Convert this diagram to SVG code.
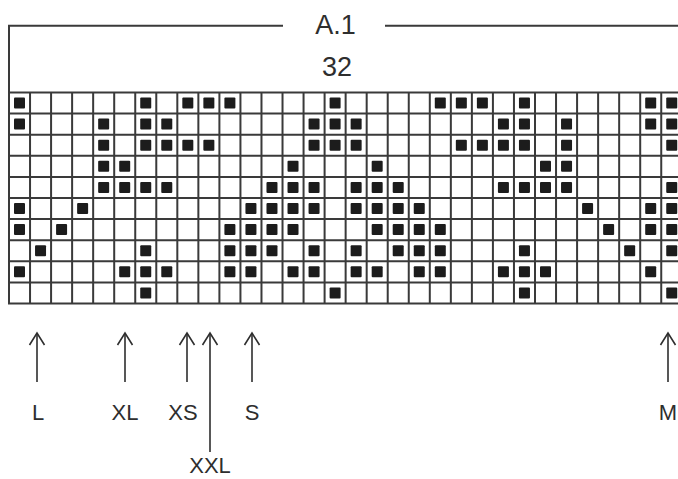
<svg xmlns="http://www.w3.org/2000/svg" xmlns:xlink="http://www.w3.org/1999/xlink" width="678" height="479" viewBox="0 0 678 479">
<style>
.txt{font-family:"Liberation Sans",Arial,sans-serif;fill:#2e2e2e;text-anchor:middle}
.hdr{font-size:27px}
.lbl{font-size:22px}
.brk{stroke:#3a3a3a;stroke-width:2;fill:none}
.grid{stroke:#3a3a3a;stroke-width:2;fill:none}
.arr{stroke:#2e2e2e;stroke-width:1.6;fill:none;marker-start:url(#head)}
.sq{fill:#1c1c1c}
</style>
<defs>
<rect id="sq" class="sq" x="5" y="5" width="11" height="11" rx="1"/>
<marker id="head" markerUnits="userSpaceOnUse" markerWidth="20" markerHeight="20" refX="0" refY="0" orient="0" overflow="visible">
<path d="M-7.5,12 L0,0 L7.5,12" stroke="#2e2e2e" stroke-width="1.6" fill="none"/>
</marker>
</defs>
<rect width="678" height="479" fill="#ffffff"/>
<g id="header">
<path class="brk" d="M9,92 V25.7 H283 M385,25.7 H678"/>
<text class="txt hdr" x="335.5" y="33.5">A.1</text>
<text class="txt hdr" x="337" y="75.5">32</text>
</g>
<g id="chart">
<rect x="9" y="92.5" width="680" height="211" fill="#ffffff"/>
<g id="squares">
<g transform="translate(0,92.5)">
<use href="#sq" x="9"/><use href="#sq" x="135.24"/><use href="#sq" x="177.32"/><use href="#sq" x="198.36"/><use href="#sq" x="219.4"/><use href="#sq" x="324.6"/><use href="#sq" x="429.8"/><use href="#sq" x="450.84"/><use href="#sq" x="471.88"/><use href="#sq" x="513.96"/><use href="#sq" x="640.2"/><use href="#sq" x="661.24"/>
</g>
<g transform="translate(0,113.6)">
<use href="#sq" x="9"/><use href="#sq" x="93.16"/><use href="#sq" x="135.24"/><use href="#sq" x="156.28"/><use href="#sq" x="303.56"/><use href="#sq" x="324.6"/><use href="#sq" x="345.64"/><use href="#sq" x="492.92"/><use href="#sq" x="513.96"/><use href="#sq" x="556.04"/><use href="#sq" x="640.2"/><use href="#sq" x="661.24"/>
</g>
<g transform="translate(0,134.7)">
<use href="#sq" x="93.16"/><use href="#sq" x="135.24"/><use href="#sq" x="156.28"/><use href="#sq" x="177.32"/><use href="#sq" x="198.36"/><use href="#sq" x="303.56"/><use href="#sq" x="324.6"/><use href="#sq" x="345.64"/><use href="#sq" x="450.84"/><use href="#sq" x="471.88"/><use href="#sq" x="492.92"/><use href="#sq" x="513.96"/><use href="#sq" x="556.04"/><use href="#sq" x="661.24"/>
</g>
<g transform="translate(0,155.8)">
<use href="#sq" x="93.16"/><use href="#sq" x="114.2"/><use href="#sq" x="282.52"/><use href="#sq" x="366.68"/><use href="#sq" x="535"/><use href="#sq" x="556.04"/>
</g>
<g transform="translate(0,176.9)">
<use href="#sq" x="93.16"/><use href="#sq" x="114.2"/><use href="#sq" x="135.24"/><use href="#sq" x="156.28"/><use href="#sq" x="261.48"/><use href="#sq" x="282.52"/><use href="#sq" x="303.56"/><use href="#sq" x="345.64"/><use href="#sq" x="366.68"/><use href="#sq" x="387.72"/><use href="#sq" x="492.92"/><use href="#sq" x="513.96"/><use href="#sq" x="535"/><use href="#sq" x="556.04"/><use href="#sq" x="661.24"/>
</g>
<g transform="translate(0,198)">
<use href="#sq" x="9"/><use href="#sq" x="72.12"/><use href="#sq" x="240.44"/><use href="#sq" x="261.48"/><use href="#sq" x="282.52"/><use href="#sq" x="303.56"/><use href="#sq" x="345.64"/><use href="#sq" x="366.68"/><use href="#sq" x="387.72"/><use href="#sq" x="408.76"/><use href="#sq" x="577.08"/><use href="#sq" x="640.2"/><use href="#sq" x="661.24"/>
</g>
<g transform="translate(0,219.1)">
<use href="#sq" x="9"/><use href="#sq" x="51.08"/><use href="#sq" x="219.4"/><use href="#sq" x="240.44"/><use href="#sq" x="261.48"/><use href="#sq" x="282.52"/><use href="#sq" x="366.68"/><use href="#sq" x="387.72"/><use href="#sq" x="408.76"/><use href="#sq" x="429.8"/><use href="#sq" x="598.12"/><use href="#sq" x="640.2"/><use href="#sq" x="661.24"/>
</g>
<g transform="translate(0,240.2)">
<use href="#sq" x="30.04"/><use href="#sq" x="135.24"/><use href="#sq" x="219.4"/><use href="#sq" x="240.44"/><use href="#sq" x="261.48"/><use href="#sq" x="303.56"/><use href="#sq" x="345.64"/><use href="#sq" x="387.72"/><use href="#sq" x="408.76"/><use href="#sq" x="429.8"/><use href="#sq" x="513.96"/><use href="#sq" x="619.16"/><use href="#sq" x="661.24"/>
</g>
<g transform="translate(0,261.3)">
<use href="#sq" x="9"/><use href="#sq" x="114.2"/><use href="#sq" x="135.24"/><use href="#sq" x="156.28"/><use href="#sq" x="219.4"/><use href="#sq" x="240.44"/><use href="#sq" x="282.52"/><use href="#sq" x="303.56"/><use href="#sq" x="345.64"/><use href="#sq" x="366.68"/><use href="#sq" x="408.76"/><use href="#sq" x="429.8"/><use href="#sq" x="492.92"/><use href="#sq" x="513.96"/><use href="#sq" x="535"/><use href="#sq" x="640.2"/>
</g>
<g transform="translate(0,282.4)">
<use href="#sq" x="135.24"/><use href="#sq" x="324.6"/><use href="#sq" x="513.96"/><use href="#sq" x="661.24"/>
</g>
</g>
<path class="grid" d="M9,92.5 V303.5 M30.04,92.5 V303.5 M51.08,92.5 V303.5 M72.12,92.5 V303.5 M93.16,92.5 V303.5 M114.2,92.5 V303.5 M135.24,92.5 V303.5 M156.28,92.5 V303.5 M177.32,92.5 V303.5 M198.36,92.5 V303.5 M219.4,92.5 V303.5 M240.44,92.5 V303.5 M261.48,92.5 V303.5 M282.52,92.5 V303.5 M303.56,92.5 V303.5 M324.6,92.5 V303.5 M345.64,92.5 V303.5 M366.68,92.5 V303.5 M387.72,92.5 V303.5 M408.76,92.5 V303.5 M429.8,92.5 V303.5 M450.84,92.5 V303.5 M471.88,92.5 V303.5 M492.92,92.5 V303.5 M513.96,92.5 V303.5 M535,92.5 V303.5 M556.04,92.5 V303.5 M577.08,92.5 V303.5 M598.12,92.5 V303.5 M619.16,92.5 V303.5 M640.2,92.5 V303.5 M661.24,92.5 V303.5 M8,92.5 H680 M8,113.6 H680 M8,134.7 H680 M8,155.8 H680 M8,176.9 H680 M8,198 H680 M8,219.1 H680 M8,240.2 H680 M8,261.3 H680 M8,282.4 H680 M8,303.5 H680"/>
</g>
<g id="connectors">
<line class="arr" x1="37" y1="333" x2="37" y2="382"/>
<line class="arr" x1="125" y1="333" x2="125" y2="382"/>
<line class="arr" x1="187" y1="333" x2="187" y2="382"/>
<line class="arr" x1="210" y1="333" x2="210" y2="452"/>
<line class="arr" x1="252" y1="333" x2="252" y2="382"/>
<line class="arr" x1="668" y1="333" x2="668" y2="382"/>
</g>
<g id="label-L"><text class="txt lbl" x="38" y="420">L</text></g>
<g id="label-XL"><text class="txt lbl" x="125" y="420">XL</text></g>
<g id="label-XS"><text class="txt lbl" x="183" y="420">XS</text></g>
<g id="label-S"><text class="txt lbl" x="252" y="420">S</text></g>
<g id="label-M"><text class="txt lbl" x="668" y="420">M</text></g>
<g id="label-XXL"><text class="txt lbl" x="210" y="473">XXL</text></g>
</svg>
